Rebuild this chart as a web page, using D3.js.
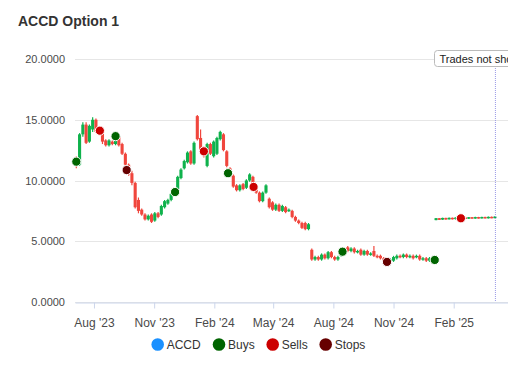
<!DOCTYPE html>
<html><head><meta charset="utf-8">
<script src="https://cdn.jsdelivr.net/npm/d3@7"></script>
<style>html,body{margin:0;padding:0;background:#fff;}svg{display:block;font-family:"Liberation Sans",Arial,sans-serif;}</style>
</head><body><svg id="c" width="508" height="380"></svg>
<script>
const dates = ["2023-07-05","2023-07-10","2023-07-15","2023-07-20","2023-07-25","2023-07-30","2023-08-04","2023-08-09","2023-08-14","2023-08-19","2023-08-24","2023-08-29","2023-09-03","2023-09-08","2023-09-13","2023-09-18","2023-09-23","2023-09-28","2023-10-03","2023-10-08","2023-10-13","2023-10-18","2023-10-23","2023-10-28","2023-11-02","2023-11-07","2023-11-12","2023-11-17","2023-11-22","2023-11-27","2023-12-02","2023-12-07","2023-12-12","2023-12-17","2023-12-22","2023-12-27","2024-01-01","2024-01-06","2024-01-11","2024-01-16","2024-01-21","2024-01-26","2024-01-31","2024-02-05","2024-02-10","2024-02-15","2024-02-20","2024-02-25","2024-03-01","2024-03-06","2024-03-11","2024-03-16","2024-03-21","2024-03-26","2024-03-31","2024-04-05","2024-04-10","2024-04-15","2024-04-20","2024-04-25","2024-04-30","2024-05-05","2024-05-10","2024-05-15","2024-05-20","2024-05-25","2024-05-30","2024-06-04","2024-06-09","2024-06-14","2024-06-19","2024-06-24","2024-06-29","2024-07-04","2024-07-09","2024-07-14","2024-07-19","2024-07-24","2024-07-29","2024-08-03","2024-08-08","2024-08-13","2024-08-18","2024-08-23","2024-08-28","2024-09-02","2024-09-07","2024-09-12","2024-09-17","2024-09-22","2024-09-27","2024-10-02","2024-10-07","2024-10-12","2024-10-17","2024-10-22","2024-10-27","2024-11-01","2024-11-06","2024-11-11","2024-11-16","2024-11-21","2024-11-26","2024-12-01","2024-12-06","2024-12-11","2024-12-16","2024-12-21","2024-12-26","2024-12-31","2025-01-05","2025-01-10","2025-01-15","2025-01-20","2025-01-25","2025-01-30","2025-02-04","2025-02-09","2025-02-14","2025-02-19","2025-02-24","2025-03-01","2025-03-06","2025-03-11","2025-03-16","2025-03-21","2025-03-26","2025-03-31","2025-04-05"];
const opens = [11.9,11.3,13.8,14.6,13.2,14.2,15.0,14.1,14.2,13.3,12.9,13.2,13.0,13.6,13.0,12.2,11.3,10.6,9.8,8.4,7.6,7.2,6.8,7.2,6.7,7.3,7.2,7.8,8.1,8.4,8.9,9.3,10.2,11.0,11.5,12.4,11.4,15.3,13.5,12.6,11.2,13.0,12.0,12.2,13.4,13.8,12.4,11.0,10.4,9.6,9.2,9.7,9.4,10.0,10.3,9.5,9.0,8.3,9.0,8.5,8.2,7.6,8.0,7.5,7.8,7.5,7.5,7.0,6.7,6.5,6.5,6.0,4.3,3.5,3.7,3.5,3.9,3.6,4.1,3.7,3.5,3.8,4.1,4.5,4.2,4.4,4.1,4.3,3.9,4.2,3.9,4.2,3.8,3.8,3.6,3.4,3.3,3.4,3.6,3.8,3.7,3.9,3.7,3.8,3.7,3.8,3.5,3.6,3.4,3.6,6.74,6.90,6.78,6.92,6.80,6.93,6.82,6.95,6.84,6.96,6.86,6.98,6.87,6.99,6.88,7.00,6.89,7.01,6.90];
const closes = [11.2,13.8,14.6,13.1,14.5,15.0,14.0,14.3,13.2,12.9,13.3,13.0,13.7,12.9,12.2,11.3,10.5,9.8,7.8,7.5,7.2,6.8,7.1,6.6,7.3,7.0,7.9,8.3,8.4,8.9,9.3,10.3,10.9,11.6,12.3,11.4,13.1,13.4,12.5,12.0,13.0,12.2,13.2,13.5,14.0,12.5,11.2,10.4,9.5,9.2,9.6,9.3,10.0,10.5,9.6,9.0,8.3,9.0,9.6,7.8,7.6,8.0,7.5,7.9,7.4,7.6,7.0,6.7,6.5,6.1,6.0,6.4,3.5,3.7,3.5,3.9,3.6,4.1,3.7,3.5,3.7,4.1,4.3,4.2,4.4,4.1,4.2,3.9,4.2,3.9,4.0,3.8,3.7,3.6,3.4,3.3,3.5,3.7,3.8,3.7,3.9,3.7,3.8,3.6,3.8,3.5,3.6,3.4,3.6,3.5,6.90,6.76,6.92,6.79,6.93,6.81,6.95,6.83,6.96,6.85,6.98,6.86,6.99,6.88,7.00,6.89,7.01,6.90,7.03];
const highs = [12.0,13.9,14.8,14.8,14.6,15.2,15.1,14.4,14.3,13.4,13.4,13.3,13.8,13.7,13.1,12.3,11.4,10.8,9.9,8.6,7.7,7.3,7.2,7.3,7.4,7.4,8.0,8.4,8.5,9.0,9.4,10.4,11.0,11.7,12.4,12.5,13.2,15.4,14.2,12.8,13.1,13.1,13.3,13.6,14.1,13.9,12.5,11.1,10.5,9.7,9.7,9.8,10.1,10.6,10.4,9.6,9.1,9.1,9.7,8.6,8.3,8.1,8.1,8.0,7.9,7.7,7.6,7.1,6.8,6.6,6.6,6.5,4.4,3.8,3.8,4.0,4.0,4.2,4.2,3.8,3.8,4.2,4.4,4.6,4.5,4.5,4.3,4.4,4.3,4.3,4.1,4.6,3.9,3.9,3.7,3.5,3.6,3.8,3.9,3.9,4.0,4.0,3.9,3.9,3.9,3.9,3.7,3.7,3.7,3.7,6.92,6.92,6.94,6.94,6.95,6.95,6.97,6.97,6.98,6.98,7.00,7.00,7.01,7.01,7.02,7.02,7.03,7.03,7.05];
const lows = [11.0,11.2,13.6,13.0,13.1,14.0,13.9,14.0,13.0,12.8,12.8,12.9,12.9,12.8,12.1,11.2,10.4,9.6,7.7,7.3,7.1,6.7,6.7,6.5,6.6,6.9,7.1,7.7,8.0,8.3,8.8,9.2,10.1,10.9,11.4,11.3,11.3,13.3,12.4,11.9,11.1,12.1,11.9,12.1,13.3,12.4,11.1,10.3,9.4,9.1,9.1,9.2,9.3,9.9,9.5,8.9,8.2,8.2,8.9,7.7,7.5,7.5,7.4,7.4,7.3,7.4,6.9,6.6,6.4,6.0,5.9,5.9,3.4,3.4,3.4,3.4,3.5,3.5,3.6,3.4,3.4,3.7,4.0,4.1,4.1,4.0,4.0,3.8,3.8,3.8,3.8,3.7,3.6,3.5,3.3,3.2,3.2,3.3,3.5,3.6,3.6,3.6,3.6,3.5,3.6,3.4,3.4,3.3,3.3,3.4,6.72,6.74,6.76,6.77,6.78,6.79,6.80,6.81,6.82,6.83,6.84,6.85,6.86,6.86,6.87,6.88,6.88,6.89,6.89];
const buyDates = ["2023-07-05","2023-09-03","2023-12-03","2024-02-22","2024-08-15","2025-01-03"];
const buyPrices = [11.55,13.65,9.05,10.6,4.14,3.46];
const sellDates = ["2023-08-10","2024-01-16","2024-04-01","2025-02-12"];
const sellPrices = [14.1,12.4,9.47,6.89];
const stopDates = ["2023-09-20","2024-10-22"];
const stopPrices = [10.86,3.3];
const yTicks = [0,5,10,15,20];
const xTickDates = ["2023-08-01","2023-11-01","2024-02-01","2024-05-01","2024-08-01","2024-11-01","2025-02-01"];
const xTickLabels = ["Aug '23","Nov '23","Feb '24","May '24","Aug '24","Nov '24","Feb '25"];
const cutoffDate = "2025-04-05";
const legendNames = ["ACCD","Buys","Sells","Stops"];
const legendColors = ["#1a90ff","#006400","#cc0000","#660000"];

(function () {
const P = d3.timeParse("%Y-%m-%d");
const svg = d3.select("#c");
const pL = 75, pR = 508, pT = 59, pB = 302;
const x = d3.scaleTime().domain([P("2023-07-03"), P("2025-04-25")]).range([pL, pR]);
const y = d3.scaleLinear().domain([0, 20]).range([pB, pT]);

svg.append("text").attr("x", 18).attr("y", 26).attr("font-size", 14).attr("font-weight", "bold").attr("fill", "#333").text("ACCD Option 1");

svg.append("g").selectAll("line").data(yTicks).join("line")
  .attr("x1", pL).attr("x2", pR).attr("y1", d => Math.round(y(d)) + 0.5).attr("y2", d => Math.round(y(d)) + 0.5)
  .attr("stroke", "#e6e6e6").attr("stroke-width", 1);
svg.append("g").selectAll("text").data(yTicks).join("text")
  .attr("x", 65).attr("y", d => y(d) + 4).attr("text-anchor", "end").attr("font-size", 11).attr("fill", "#4a4a4a")
  .text(d => d3.format(".4f")(d));

const xg = svg.append("g").attr("transform", `translate(0,${pB + 0.5})`)
  .call(d3.axisBottom(x).tickValues(xTickDates.map(P)).tickFormat((d, i) => xTickLabels[i]).tickSize(6).tickSizeOuter(0).tickPadding(10));
xg.select(".domain").attr("stroke", "#ccd6eb");
xg.selectAll(".tick line").attr("stroke", "#ccd6eb");
xg.selectAll(".tick text").attr("font-size", 12).attr("fill", "#4a4a4a").attr("font-family", "'Liberation Sans',Arial,sans-serif");

const data = dates.map((d, i) => ({d: P(d), o: opens[i], c: closes[i], h: highs[i], l: lows[i]}));
const up = "#0fb24c", dn = "#f0463d";
const cw = 3.1;
const cg = svg.append("g");
cg.selectAll("line").data(data).join("line")
  .attr("x1", d => x(d.d)).attr("x2", d => x(d.d)).attr("y1", d => y(d.h)).attr("y2", d => y(d.l))
  .attr("stroke", d => d.c >= d.o ? up : dn).attr("stroke-width", 1.2);
cg.selectAll("rect").data(data).join("rect")
  .attr("x", d => x(d.d) - cw / 2).attr("width", cw)
  .attr("y", d => y(Math.max(d.o, d.c))).attr("height", d => Math.max(1.5, Math.abs(y(d.o) - y(d.c))))
  .attr("fill", d => d.c >= d.o ? up : dn);

svg.append("line").attr("x1", x(P(cutoffDate)) + 0.5).attr("x2", x(P(cutoffDate)) + 0.5).attr("y1", 66).attr("y2", pB)
  .attr("stroke", "#9999e6").attr("stroke-width", 1).attr("stroke-dasharray", "1,1");
const lab = svg.append("g").attr("transform", "translate(434.5,50.5)");
lab.append("rect").attr("width", 110).attr("height", 16).attr("rx", 3).attr("fill", "#fff").attr("stroke", "#bbb");
lab.append("text").attr("x", 5).attr("y", 12).attr("font-size", 11).attr("fill", "#222").text("Trades not shown after this date");

function markers(ds, ps, col) {
  svg.append("g").selectAll("circle").data(ds.map((d, i) => ({d: P(d), p: ps[i]}))).join("circle")
    .attr("cx", d => x(d.d)).attr("cy", d => y(d.p)).attr("r", 4.6)
    .attr("fill", col).attr("stroke", "#fff").attr("stroke-width", 1);
}
markers(buyDates, buyPrices, legendColors[1]);
markers(sellDates, sellPrices, legendColors[2]);
markers(stopDates, stopPrices, legendColors[3]);

const lx = [157.7, 219, 272.7, 325.7];
const lg = svg.append("g");
legendNames.forEach((n, i) => {
  lg.append("circle").attr("cx", lx[i]).attr("cy", 344.5).attr("r", 6.3).attr("fill", legendColors[i]);
  lg.append("text").attr("x", lx[i] + 9).attr("y", 349).attr("font-size", 12).attr("fill", "#333").text(n);
});
})();
</script></body></html>
